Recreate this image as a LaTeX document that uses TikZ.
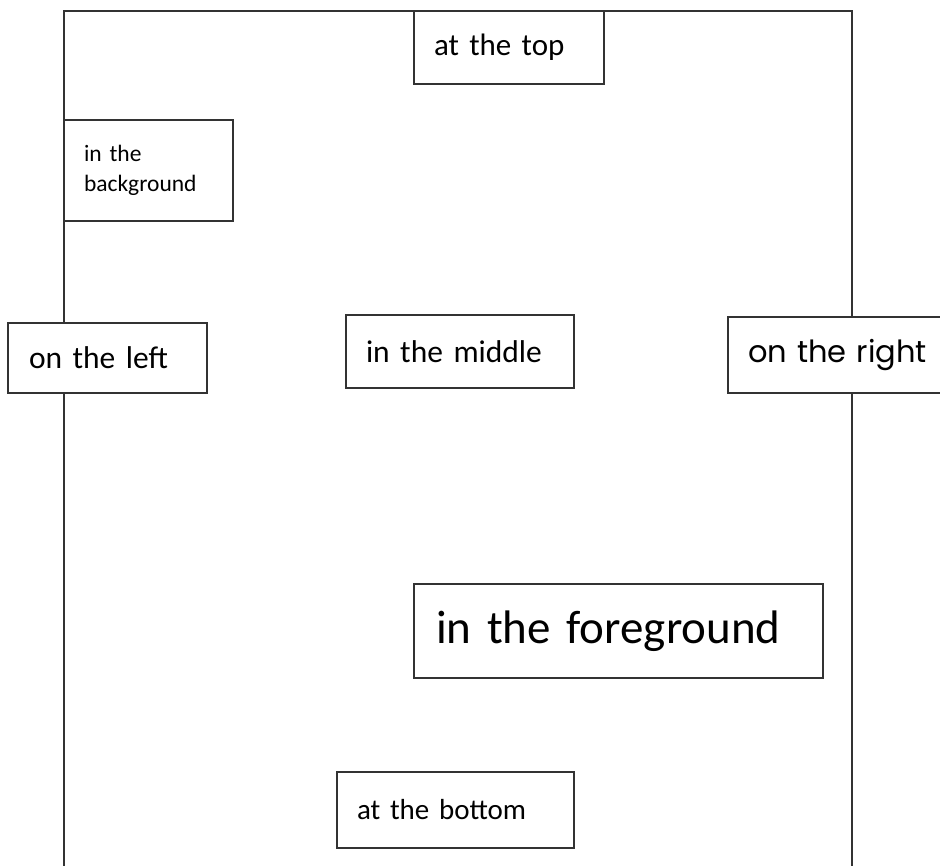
\documentclass[tikz,border=0pt]{standalone}
\usepackage{fontspec}
\setmainfont{Carlito}
\newfontfamily\comicfont{Poppins}
\begin{document}
\begin{tikzpicture}[x=1pt,y=-1pt,
  framecol/.style={draw=black!80,line width=1.2pt},
  labelbox/.style={framecol,fill=white,anchor=north west,align=left,inner ysep=0pt,outer sep=0pt}]
\useasboundingbox (0,0) rectangle (940,866);
\begin{scope}
\clip (0,0) rectangle (940,866);
\draw[framecol] (64,880) coordinate (bl) -- (64,11) coordinate (tl) -- (852,11) coordinate (tr) -- (852,880) coordinate (br);
\node[labelbox,minimum width=190pt,minimum height=73pt,inner xsep=20pt,text width=150pt,font=\fontsize{31}{36}\selectfont] (top) at (414,11) {at the top};
\node[labelbox,minimum width=169pt,minimum height=101pt,inner xsep=20pt,text width=129pt,font=\fontsize{23.5}{30}\selectfont] (bg) at (64,120) {in the\\background};
\node[labelbox,minimum width=199pt,minimum height=70pt,inner xsep=21pt,text width=157pt,font=\fontsize{31.5}{36}\selectfont] (left) at (8,323) {on the left};
\node[labelbox,minimum width=228pt,minimum height=73pt,inner xsep=20pt,text width=188pt,font=\fontsize{31.5}{36}\selectfont] (mid) at (346,315) {in the middle};
\node[labelbox,minimum width=240pt,minimum height=76pt,inner xsep=20pt,text width=200pt,font=\comicfont\fontsize{30.5}{36}\selectfont] (right) at (728,317) {on the right};
\node[labelbox,minimum width=409pt,minimum height=94pt,inner xsep=22pt,text width=365pt,font=\fontsize{47}{54}\selectfont] (fg) at (414,584) {in the foreground};
\node[labelbox,minimum width=237pt,minimum height=76pt,inner xsep=20pt,text width=197pt,font=\fontsize{29}{34}\selectfont] (bot) at (337,772) {at the bottom};
\end{scope}
\end{tikzpicture}
\end{document}
